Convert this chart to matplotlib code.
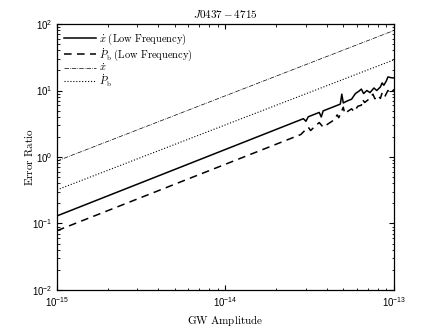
import matplotlib
matplotlib.use("Agg")
import matplotlib.pyplot as plt
from matplotlib.ticker import NullFormatter
import numpy as np

plt.rcParams['mathtext.fontset'] = 'cm'
plt.rcParams['font.family'] = ['Liberation Sans', 'DejaVu Sans']

# smooth reference curves (two end points, straight on log-log axes)
amp_ref = [1e-15, 1e-13]
xdot_all = [0.87, 80.0]
pb_all = [0.32, 29.0]

# low frequency results: error ratio vs GW amplitude
amp_xdot_lf = [1e-15, 2.9e-14, 3.0e-14, 3.1e-14, 3.6e-14, 3.7e-14, 3.8e-14,
               4.8e-14, 4.9e-14, 5.0e-14, 5.3e-14, 5.6e-14, 5.9e-14, 6.2e-14,
               6.4e-14, 6.6e-14, 6.9e-14, 7.2e-14, 7.6e-14, 7.9e-14, 8.3e-14,
               8.5e-14, 8.7e-14, 9.0e-14, 9.2e-14, 9.6e-14, 1.0e-13]
xdot_lf = [0.13, 3.77, 3.45, 4.03, 4.68, 4.0, 4.94,
           6.24, 8.8, 6.5, 7.0, 7.4, 9.0, 9.8,
           10.5, 9.0, 10.0, 9.3, 10.9, 10.0, 11.3,
           13.0, 12.0, 13.9, 16.0, 15.6, 15.4]

amp_pb_lf = [1e-15, 2.8e-14, 3.0e-14, 3.1e-14, 3.2e-14, 3.4e-14, 3.6e-14,
             3.8e-14, 4.1e-14, 4.4e-14, 4.6e-14, 4.7e-14, 5.0e-14, 5.1e-14,
             5.4e-14, 5.6e-14, 5.8e-14, 6.1e-14, 6.4e-14, 6.5e-14, 6.7e-14,
             7.0e-14, 7.5e-14, 7.7e-14, 8.0e-14, 8.3e-14, 8.5e-14, 8.8e-14,
             9.2e-14, 9.6e-14, 1.0e-13]
pb_lf = [0.078, 2.18, 2.6, 2.8, 2.5, 2.9, 3.3,
         2.8, 3.2, 3.6, 4.3, 3.9, 5.6, 4.5,
         5.0, 5.3, 4.8, 5.8, 6.0, 7.3, 6.6,
         7.2, 8.8, 7.5, 8.4, 7.6, 9.2, 8.0,
         10.0, 9.2, 10.4]

x_ticks = [1e-15, 1e-14, 1e-13]
y_ticks = [1e-2, 1e-1, 1e0, 1e1, 1e2]

fig = plt.figure(figsize=(4.36, 3.28), dpi=100)
ax = fig.add_axes([0.1307, 0.1159, 0.773, 0.8109])

ax.loglog(amp_xdot_lf, xdot_lf, 'k-', lw=1.1, label=r'$\dot{x}\ \mathrm{(Low\ Frequency)}$')
ax.loglog(amp_pb_lf, pb_lf, 'k--', lw=1.1, dashes=(5, 3.5),
          label=r'$\dot{P}_{\rm b}\ \mathrm{(Low\ Frequency)}$')
ax.loglog(amp_ref, xdot_all, 'k-.', lw=0.5, label=r'$\dot{x}$')
ax.loglog(amp_ref, pb_all, 'k:', lw=0.8, label=r'$\dot{P}_{\rm b}$')

ax.set_xlim(1e-15, 1e-13)
ax.set_ylim(1e-2, 1e2)
ax.set_xticks(x_ticks)
ax.set_yticks(y_ticks)
ax.xaxis.set_minor_formatter(NullFormatter())
ax.yaxis.set_minor_formatter(NullFormatter())
ax.tick_params(which='both', direction='in', top=True, right=True, labelsize=7)
ax.tick_params(which='major', length=3.5)
ax.tick_params(which='minor', length=1.8)
for s in ax.spines.values():
    s.set_linewidth(0.9)

ax.set_title(r'$J0437-4715$', fontsize=8, pad=4)
ax.set_xlabel(r'$\mathrm{GW\ Amplitude}$', fontsize=8, labelpad=3)
ax.set_ylabel(r'$\mathrm{Error\ Ratio}$', fontsize=8, labelpad=-2.5)

ax.legend(loc='upper left', frameon=False, fontsize=7.5, handlelength=3,
          handletextpad=0.3, labelspacing=-0.08, borderaxespad=0.5,
          borderpad=0.2)

fig.savefig("out.png", dpi=100)
